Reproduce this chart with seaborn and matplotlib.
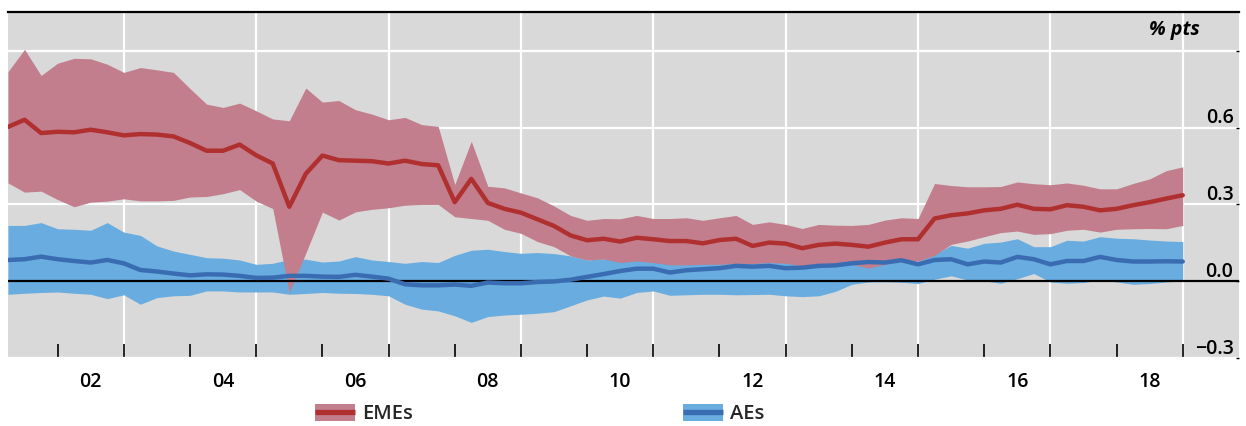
import numpy as np
import pandas as pd
import matplotlib
matplotlib.use("Agg")
import matplotlib.pyplot as plt
import matplotlib.transforms as mtransforms
from matplotlib.patches import Patch
from matplotlib.lines import Line2D
from matplotlib.legend_handler import HandlerTuple
import seaborn as sns

# Quarterly observations, first quarter shown is 2001 Q2
start_year = 2001.25

eme_upper = [0.819, 0.906, 0.804, 0.852, 0.871, 0.869, 0.848, 0.816, 0.835, 0.826,
             0.816, 0.753, 0.692, 0.679, 0.696, 0.666, 0.634, 0.627, 0.755, 0.700,
             0.706, 0.670, 0.653, 0.631, 0.640, 0.612, 0.605, 0.378, 0.547, 0.371,
             0.365, 0.345, 0.326, 0.294, 0.257, 0.238, 0.245, 0.244, 0.257, 0.245,
             0.245, 0.248, 0.238, 0.248, 0.257, 0.222, 0.232, 0.222, 0.206, 0.222,
             0.219, 0.218, 0.222, 0.239, 0.248, 0.245, 0.382, 0.374, 0.369, 0.369,
             0.370, 0.388, 0.381, 0.377, 0.384, 0.375, 0.361, 0.361, 0.382, 0.400,
             0.432, 0.447]
eme_mid = [0.603, 0.631, 0.579, 0.584, 0.582, 0.592, 0.582, 0.570, 0.575, 0.573,
           0.566, 0.540, 0.510, 0.510, 0.534, 0.492, 0.460, 0.291, 0.420, 0.491,
           0.473, 0.471, 0.469, 0.460, 0.471, 0.458, 0.453, 0.309, 0.400, 0.306,
           0.283, 0.268, 0.242, 0.216, 0.179, 0.160, 0.166, 0.155, 0.170, 0.164,
           0.157, 0.157, 0.148, 0.161, 0.166, 0.138, 0.151, 0.147, 0.129, 0.142,
           0.147, 0.142, 0.135, 0.151, 0.164, 0.164, 0.245, 0.258, 0.265, 0.277,
           0.283, 0.299, 0.283, 0.281, 0.297, 0.291, 0.277, 0.283, 0.297, 0.309,
           0.323, 0.336]
eme_lower = [0.384, 0.348, 0.352, 0.319, 0.291, 0.309, 0.313, 0.322, 0.314, 0.314,
             0.316, 0.329, 0.331, 0.342, 0.358, 0.313, 0.284, -0.044, 0.110, 0.270,
             0.239, 0.271, 0.281, 0.287, 0.297, 0.300, 0.300, 0.252, 0.245, 0.238,
             0.203, 0.187, 0.155, 0.135, 0.099, 0.083, 0.087, 0.073, 0.079, 0.073,
             0.064, 0.064, 0.066, 0.066, 0.070, 0.069, 0.073, 0.070, 0.060, 0.066,
             0.069, 0.066, 0.051, 0.066, 0.079, 0.079, 0.101, 0.144, 0.157, 0.174,
             0.190, 0.196, 0.183, 0.186, 0.199, 0.203, 0.192, 0.203, 0.205, 0.206,
             0.205, 0.218]

ae_upper = [0.218, 0.218, 0.229, 0.205, 0.203, 0.199, 0.229, 0.192, 0.179, 0.138,
            0.118, 0.105, 0.092, 0.090, 0.083, 0.066, 0.070, 0.085, 0.086, 0.075,
            0.079, 0.096, 0.083, 0.077, 0.070, 0.077, 0.073, 0.101, 0.121, 0.125,
            0.116, 0.109, 0.112, 0.108, 0.099, 0.083, 0.088, 0.090, 0.095, 0.090,
            0.085, 0.085, 0.085, 0.085, 0.085, 0.085, 0.085, 0.085, 0.080, 0.080,
            0.080, 0.085, 0.085, 0.090, 0.086, 0.079, 0.105, 0.140, 0.129, 0.148,
            0.153, 0.166, 0.135, 0.135, 0.160, 0.157, 0.174, 0.168, 0.166, 0.161,
            0.157, 0.155]
ae_mid = [0.083, 0.086, 0.096, 0.086, 0.079, 0.073, 0.083, 0.070, 0.044, 0.038,
          0.030, 0.023, 0.027, 0.026, 0.021, 0.013, 0.014, 0.021, 0.021, 0.018,
          0.017, 0.025, 0.018, 0.010, -0.012, -0.016, -0.016, -0.013, -0.018, -0.005,
          -0.008, -0.008, -0.003, -0.001, 0.006, 0.017, 0.028, 0.040, 0.049, 0.049,
          0.034, 0.043, 0.047, 0.051, 0.060, 0.057, 0.060, 0.051, 0.053, 0.060,
          0.062, 0.070, 0.075, 0.073, 0.082, 0.066, 0.083, 0.086, 0.066, 0.077,
          0.073, 0.095, 0.086, 0.066, 0.079, 0.079, 0.095, 0.083, 0.077, 0.077,
          0.078, 0.077]
ae_lower = [-0.051, -0.047, -0.044, -0.042, -0.047, -0.051, -0.068, -0.053, -0.090, -0.064,
            -0.057, -0.055, -0.038, -0.038, -0.042, -0.042, -0.042, -0.051, -0.048, -0.044,
            -0.047, -0.048, -0.051, -0.057, -0.090, -0.109, -0.116, -0.135, -0.161, -0.138,
            -0.132, -0.129, -0.125, -0.119, -0.096, -0.073, -0.058, -0.066, -0.044, -0.038,
            -0.055, -0.053, -0.051, -0.051, -0.053, -0.052, -0.051, -0.057, -0.060, -0.057,
            -0.040, -0.012, -0.003, -0.002, -0.004, -0.009, 0.008, 0.021, 0.005, 0.001,
            -0.008, 0.010, 0.030, -0.003, -0.008, -0.005, 0.004, -0.003, -0.012, -0.009,
            -0.003, 0.001]

year_ticks = list(range(2002, 2020))
label_positions = [2002.5, 2004.5, 2006.5, 2008.5, 2010.5, 2012.5, 2014.5, 2016.5, 2018.5]
label_texts = ["02", "04", "06", "08", "10", "12", "14", "16", "18"]
grid_years = [2003, 2005, 2007, 2009, 2011, 2013, 2015, 2017, 2019]
y_ticks = [-0.3, 0.0, 0.3, 0.6, 0.9]
y_labels = ["\u22120.3", "0.0", "0.3", "0.6", ""]
unit_label = "% pts"
series_names = ["EMEs", "AEs"]

EME_BAND, EME_LINE = "#C27E8D", "#B03030"
AE_BAND, AE_LINE = "#68ACE0", "#3A6CB2"
BG = "#D9D9D9"

dates = start_year + 0.25 * np.arange(len(eme_mid))
df = pd.DataFrame({
    "date": dates,
    "eme_lo": eme_lower, "eme_mid": eme_mid, "eme_hi": eme_upper,
    "ae_lo": ae_lower, "ae_mid": ae_mid, "ae_hi": ae_upper,
})

sns.set_theme(style="darkgrid")
plt.rcParams["font.family"] = ["Open Sans", "DejaVu Sans"]
plt.rcParams["font.weight"] = "semibold"

fig = plt.figure(figsize=(12.46, 4.26), dpi=100)
ax = fig.add_axes([8 / 1246, 1 - 358 / 426, (1239 - 8) / 1246, (358 - 12) / 426])
ax.set_facecolor(BG)

# interquartile-style bands, EMEs drawn over AEs
ax.fill_between(df["date"], df["ae_lo"], df["ae_hi"], color=AE_BAND, lw=0, zorder=1)
ax.fill_between(df["date"], df["eme_lo"], df["eme_hi"], color=EME_BAND, lw=0, zorder=2)
ax.axhline(0, color="black", lw=1.6, zorder=2.5)
sns.lineplot(data=df, x="date", y="eme_mid", color=EME_LINE, lw=3.2, ax=ax, zorder=3)
sns.lineplot(data=df, x="date", y="ae_mid", color=AE_LINE, lw=3.2, ax=ax, zorder=4)

for yr in grid_years:
    ax.axvline(yr, color="white", lw=1.6, zorder=0.5)

ax.set_xlim(2001.25, 2019.85)
ax.set_ylim(-0.297, 1.052)
ax.set_xlabel("")
ax.set_ylabel("")

# x axis: year boundaries as inward ticks, labels centred on each year
ax.set_xticks(year_ticks)
ax.set_xticklabels([])
ax.set_xticks(label_positions, minor=True)
ax.set_xticklabels(label_texts, minor=True)
ax.tick_params(axis="x", which="major", direction="in", length=10, width=1.2,
               color="black", bottom=True, top=False)
ax.tick_params(axis="x", which="minor", direction="in", length=0, pad=10,
               labelsize=14, labelcolor="black", bottom=True)
ax.grid(False, axis="x")

# y axis: labels inside on the right, sitting above their grid lines
ax.set_yticks(y_ticks)
ax.set_yticklabels(y_labels)
ax.tick_params(axis="y", which="major", left=False, right=True, labelleft=False,
               labelright=True, direction="in", length=2, width=1, color="black",
               pad=-4, labelsize=14, labelcolor="black")
ax.grid(True, axis="y", color="white", lw=1.6)
ax.set_axisbelow(True)
shift = mtransforms.ScaledTranslation(0, 12 / 100, fig.dpi_scale_trans)
for lbl in ax.get_yticklabels():
    lbl.set_horizontalalignment("right")
    lbl.set_transform(lbl.get_transform() + shift)

ax.text(2018.88, 0.982, unit_label, ha="center", va="center", fontsize=14,
        fontweight="bold", fontstyle="italic", color="black")

for side in ["left", "right", "bottom"]:
    ax.spines[side].set_visible(False)
ax.spines["top"].set_visible(True)
ax.spines["top"].set_color("black")
ax.spines["top"].set_linewidth(1.6)

# legend entries: band with its median line drawn across it
legend_specs = [(series_names[0], EME_BAND, EME_LINE, 315),
                (series_names[1], AE_BAND, AE_LINE, 683)]
for name, band, line, xpix in legend_specs:
    handle = (Patch(facecolor=band, edgecolor="none"),
              Line2D([], [], color=line, lw=3.8, solid_capstyle="butt"))
    fig.legend([handle], [name], handler_map={tuple: HandlerTuple(ndivide=1, pad=0)},
               loc="center left", bbox_to_anchor=(xpix / 1246, 1 - 414 / 426),
               frameon=False, fontsize=14.5, handlelength=2.0, handleheight=0.9,
               handletextpad=0.35, borderpad=0, borderaxespad=0)

fig.savefig("out.png", dpi=100, facecolor="white")
